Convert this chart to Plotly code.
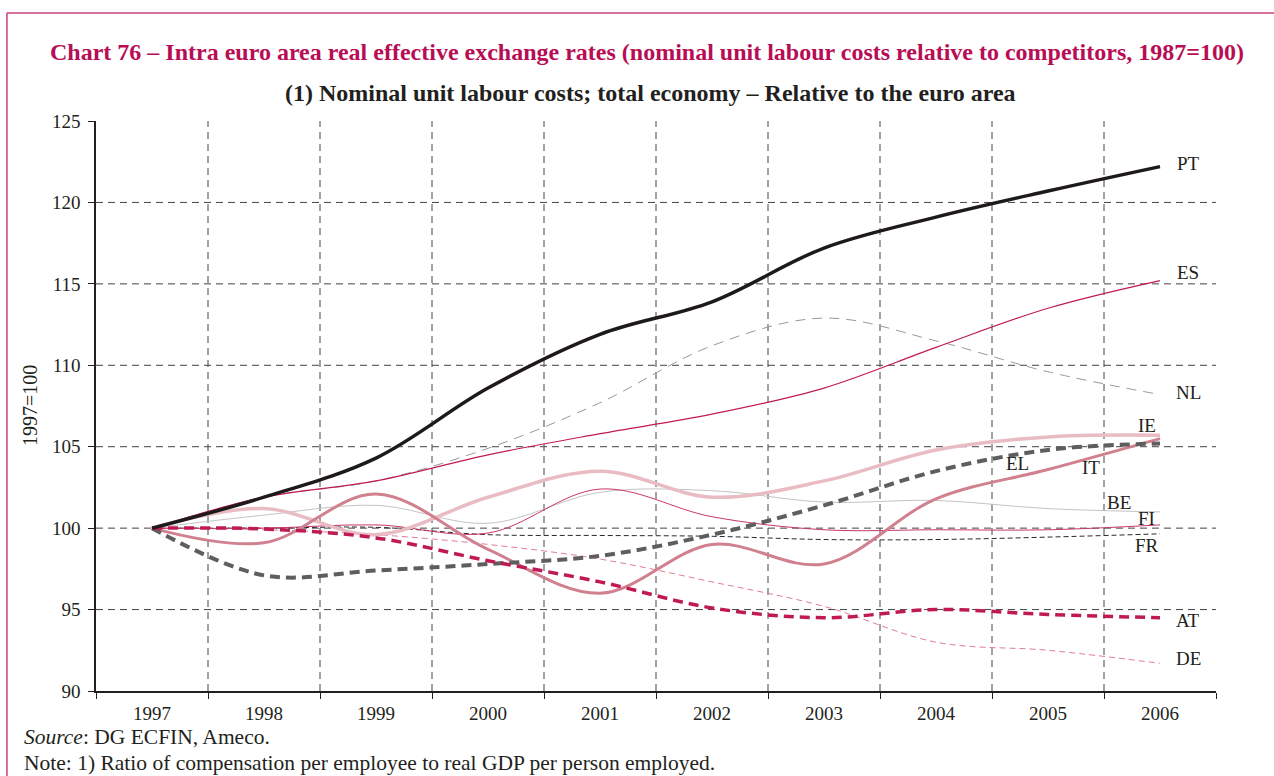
import plotly.graph_objects as go

years = [1997, 1998, 1999, 2000, 2001, 2002, 2003, 2004, 2005, 2006]
year_labels = [str(y) for y in years]

PT = [100, 101.9, 104.3, 108.6, 111.9, 113.9, 117.2, 119.1, 120.7, 122.2]
ES = [100, 101.9, 102.9, 104.5, 105.8, 107.0, 108.6, 111.1, 113.5, 115.2]
NL = [100, 101.9, 102.9, 104.9, 107.7, 111.2, 112.9, 111.5, 109.6, 108.2]
IE = [100, 101.2, 99.6, 101.9, 103.5, 101.9, 102.9, 104.8, 105.6, 105.7]
IT = [100, 99.1, 102.1, 98.7, 96.0, 99.0, 97.8, 101.8, 103.6, 105.5]
EL = [100, 97.1, 97.4, 97.8, 98.3, 99.6, 101.4, 103.5, 104.8, 105.2]
BE = [100, 100.8, 101.4, 100.3, 102.2, 102.3, 101.6, 101.7, 101.2, 101.0]
FI = [100, 100.0, 100.2, 99.7, 102.4, 100.7, 99.9, 99.9, 99.9, 100.2]
FR = [100, 100.0, 100.05, 99.6, 99.55, 99.5, 99.3, 99.3, 99.45, 99.65]
AT = [100, 99.95, 99.4, 98.0, 96.7, 95.1, 94.5, 95.0, 94.7, 94.5]
DE = [100, 99.9, 99.6, 99.0, 98.1, 96.7, 95.2, 93.0, 92.5, 91.7]

# name, values, colour, width, dash
series = [
    ("DE", DE, "#e07c98", 1, "6px,4px"),
    ("FR", FR, "#2a2a2a", 1, "5px,3px"),
    ("BE", BE, "#c4c4c4", 1, "solid"),
    ("NL", NL, "#9a9a9a", 1, "10px,7px"),
    ("FI", FI, "#c8386a", 1, "solid"),
    ("ES", ES, "#c01a55", 1.2, "solid"),
    ("IE", IE, "#e9bcc3", 3.5, "solid"),
    ("IT", IT, "#d0808e", 3, "solid"),
    ("EL", EL, "#5e5e5e", 4, "10px,6px"),
    ("AT", AT, "#c01a55", 3.5, "10px,6px"),
    ("PT", PT, "#1e1a1b", 3.5, "solid"),
]

# label positions (year, value)
labels = {
    "PT": (2006.25, 122.4), "ES": (2006.25, 115.7), "NL": (2006.25, 108.3),
    "IE": (2005.88, 106.3), "EL": (2004.73, 104.0), "IT": (2005.38, 103.7),
    "BE": (2005.63, 101.6), "FI": (2005.88, 100.6), "FR": (2005.88, 98.96),
    "AT": (2006.25, 94.3), "DE": (2006.25, 92.0),
}

y_grid = [95, 100, 105, 110, 115, 120]
x_bounds = [1996.5 + i for i in range(11)]

FONT = "Liberation Serif, Times New Roman, serif"
fig = go.Figure()
for name, vals, col, w, dash in series:
    fig.add_trace(go.Scatter(x=years, y=vals, mode="lines", name=name,
                             line=dict(color=col, width=w, dash=dash, shape="spline", smoothing=1.0),
                             showlegend=False, hoverinfo="skip"))

shapes = []
for v in y_grid:
    shapes.append(dict(type="line", xref="paper", x0=0, x1=1, yref="y", y0=v, y1=v,
                       line=dict(color="#444444", width=1, dash="7px,5px"), layer="below"))
for b in x_bounds[1:-1]:
    shapes.append(dict(type="line", xref="x", x0=b, x1=b, yref="paper", y0=0, y1=1,
                       line=dict(color="#444444", width=1, dash="7px,5px"), layer="below"))
# outer frame (top and left edges)
shapes.append(dict(type="line", xref="paper", yref="paper", x0=-0.0795, x1=1.2, y0=1.1895, y1=1.1895,
                   line=dict(color="#c9407c", width=1.5)))
shapes.append(dict(type="line", xref="paper", yref="paper", x0=-0.0795, x1=-0.0795, y0=1.1895, y1=-0.25,
                   line=dict(color="#c9407c", width=1.5)))

annotations = []
for k, (lx, ly) in labels.items():
    annotations.append(dict(x=lx, y=ly, xref="x", yref="y", text=k, showarrow=False,
                            font=dict(family=FONT, size=19, color="#231f20"), xanchor="center", yanchor="middle"))

annotations += [
    dict(x=0.492, y=1.121, xref="paper", yref="paper", showarrow=False, xanchor="center", yanchor="middle",
         text="<b>Chart 76 – Intra euro area real effective exchange rates (nominal unit labour costs relative to competitors, 1987=100)</b>",
         font=dict(family=FONT, size=24, color="#b80d55")),
    dict(x=0.495, y=1.049, xref="paper", yref="paper", showarrow=False, xanchor="center", yanchor="middle",
         text="<b>(1) Nominal unit labour costs; total economy – Relative to the euro area</b>",
         font=dict(family=FONT, size=24, color="#231f20")),
    dict(x=-0.0589, y=0.5, xref="paper", yref="paper", showarrow=False, textangle=-90,
         xanchor="center", yanchor="middle", text="1997=100",
         font=dict(family=FONT, size=20, color="#231f20")),
    dict(x=-0.0665, y=-0.081, xref="paper", yref="paper", showarrow=False, xanchor="left", yanchor="middle",
         text="<i>Source</i>: DG ECFIN, Ameco.", font=dict(family=FONT, size=21.5, color="#231f20")),
    dict(x=-0.0665, y=-0.126, xref="paper", yref="paper", showarrow=False, xanchor="left", yanchor="middle",
         text="Note: 1) Ratio of compensation per employee to real GDP per person employed.",
         font=dict(family=FONT, size=21.5, color="#231f20")),
]

fig.update_layout(
    width=1274, height=776,
    margin=dict(l=96, r=58, t=121, b=85),
    paper_bgcolor="white", plot_bgcolor="white",
    shapes=shapes, annotations=annotations,
    font=dict(family=FONT, size=19, color="#231f20"),
)
fig.update_xaxes(range=[1996.5, 2006.5], tickvals=years, ticktext=year_labels, ticks="",
                 showgrid=False, zeroline=False, showline=True, linecolor="#231f20", linewidth=1.5,
                 ticklabelstandoff=4,
                 minor=dict(tickvals=x_bounds, ticks="outside", ticklen=6, tickcolor="#231f20", showgrid=False),
                 tickfont=dict(family=FONT, size=19, color="#231f20"))
fig.update_yaxes(range=[90, 125], tickvals=[90, 95, 100, 105, 110, 115, 120, 125], ticks="outside",
                 ticklen=6, tickcolor="#231f20", showgrid=False, zeroline=False, showline=True,
                 linecolor="#231f20", linewidth=1.5, ticklabelstandoff=4,
                 tickfont=dict(family=FONT, size=19, color="#231f20"))

fig.write_html("out.html", config={"displayModeBar": False},
               post_script="document.body.style.margin='0';document.body.style.overflow='hidden';")
